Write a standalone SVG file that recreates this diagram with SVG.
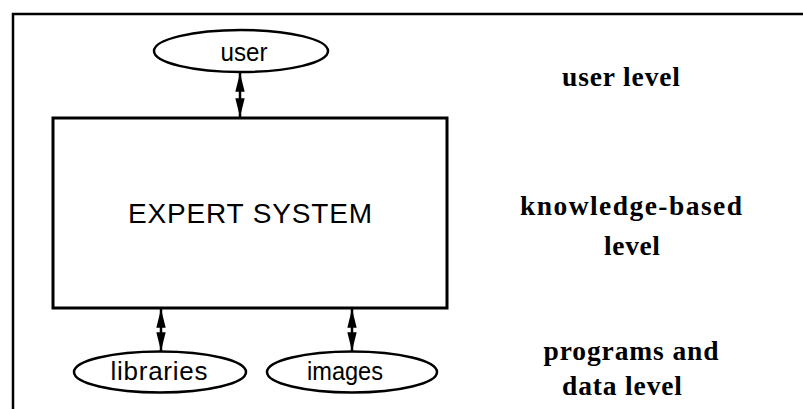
<svg xmlns="http://www.w3.org/2000/svg" width="803" height="409" viewBox="0 0 803 409">
  <style>
    .frame { stroke: #000; stroke-width: 2.5; fill: none; }
    .box { stroke: #000; stroke-width: 3; fill: #fff; }
    .oval { stroke: #000; stroke-width: 2.5; fill: #fff; }
    .link { stroke: #000; stroke-width: 2.5; fill: none; marker-start: url(#head); marker-end: url(#head); }
    .sans { font-family: "Liberation Sans", Arial, sans-serif; fill: #000; text-anchor: middle; }
    .level { font-family: "Liberation Serif", "Times New Roman", serif; font-weight: bold; font-size: 27.5px; fill: #000; text-anchor: middle; }
  </style>
  <defs>
    <marker id="head" viewBox="0 0 20 10" refX="20" refY="5" markerWidth="7.5" markerHeight="3.75" markerUnits="strokeWidth" orient="auto-start-reverse">
      <path d="M0,0 L20,5 L0,10 Z" fill="#000"/>
    </marker>
  </defs>
  <rect width="803" height="409" fill="#fff"/>

  <!-- surrounding frame (top and left edges) -->
  <path class="frame" d="M13,409 L13,14 L803,14"/>

  <g id="connectors">
    <line class="link" x1="240" y1="73" x2="240" y2="117"/>
    <line class="link" x1="161" y1="309" x2="161" y2="351"/>
    <line class="link" x1="352" y1="309" x2="352" y2="351"/>
  </g>

  <g id="user">
    <ellipse class="oval" cx="241" cy="51" rx="87" ry="21"/>
    <text class="sans" x="244" y="61" font-size="25" textLength="47" lengthAdjust="spacingAndGlyphs">user</text>
  </g>

  <g id="expert-system">
    <rect class="box" x="53" y="118" width="394" height="190"/>
    <text class="sans" x="250" y="223" font-size="28" textLength="244">EXPERT SYSTEM</text>
  </g>

  <g id="libraries">
    <ellipse class="oval" cx="160" cy="372" rx="86" ry="20.5"/>
    <text class="sans" x="159" y="380" font-size="26" textLength="97">libraries</text>
  </g>

  <g id="images">
    <ellipse class="oval" cx="352" cy="372" rx="85" ry="20.5"/>
    <text class="sans" x="345" y="380" font-size="25" textLength="76" lengthAdjust="spacingAndGlyphs">images</text>
  </g>

  <g id="levels">
    <text class="level" x="621" y="86" textLength="118">user level</text>
    <text class="level" x="631" y="215" textLength="222">knowledge-based</text>
    <text class="level" x="632" y="255" textLength="56">level</text>
    <text class="level" x="631" y="360" textLength="175">programs and</text>
    <text class="level" x="622" y="395" textLength="120">data level</text>
  </g>
</svg>
